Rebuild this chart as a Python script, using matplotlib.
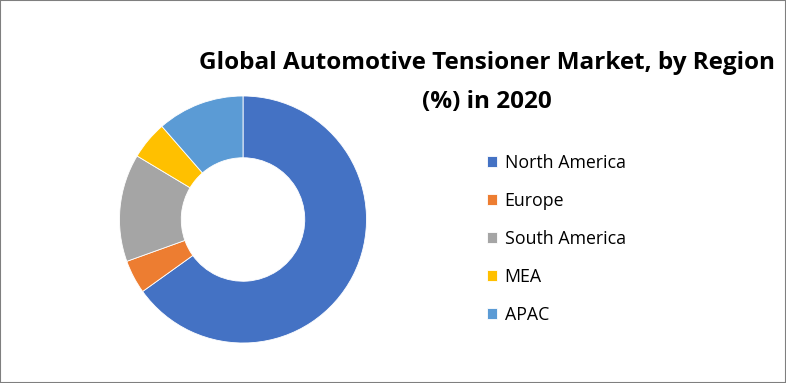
import matplotlib
matplotlib.use("Agg")
import matplotlib.pyplot as plt
from matplotlib.patches import Rectangle

regions = ["North America", "Europe", "South America", "MEA", "APAC"]
shares = [65.1, 4.4, 14.1, 5.0, 11.4]
colors = ["#4472C4", "#ED7D31", "#A5A5A5", "#FFC000", "#5B9BD5"]
title = "Global Automotive Tensioner Market, by Region\n(%) in 2020"

plt.rcParams['font.family'] = ['Open Sans', 'DejaVu Sans']

W, H = 786, 383
fig = plt.figure(figsize=(W / 100, H / 100), dpi=100)
fig.patch.set_facecolor("white")

cx, cy, r = 243, 219.5, 123.5
ax = fig.add_axes([(cx - r) / W, 1 - (cy + r) / H, 2 * r / W, 2 * r / H])
wedges, _ = ax.pie(shares, colors=colors, startangle=90, counterclock=False,
                   radius=1.0, wedgeprops=dict(width=0.5, edgecolor="white", linewidth=0.6))
ax.set_xlim(-1, 1)
ax.set_ylim(-1, 1)
ax.set_aspect("equal")
ax.axis("off")

fig.text(487 / W, 1 - 82.5 / H, title, ha="center", va="center", fontsize=17.5,
         fontweight="bold", linespacing=1.78, color="black")

leg = fig.legend(wedges, regions, loc="upper left",
                 bbox_to_anchor=(478 / W, 1 - 145 / H), frameon=False,
                 fontsize=12.8, handlelength=0.55, handleheight=0.55,
                 handletextpad=0.45, labelspacing=1.12, borderpad=0)

fig.add_artist(Rectangle((0, 0), 1, 1, transform=fig.transFigure, fill=False,
                         edgecolor="#7F7F7F", linewidth=1.5))

fig.savefig("out.png", dpi=100)
